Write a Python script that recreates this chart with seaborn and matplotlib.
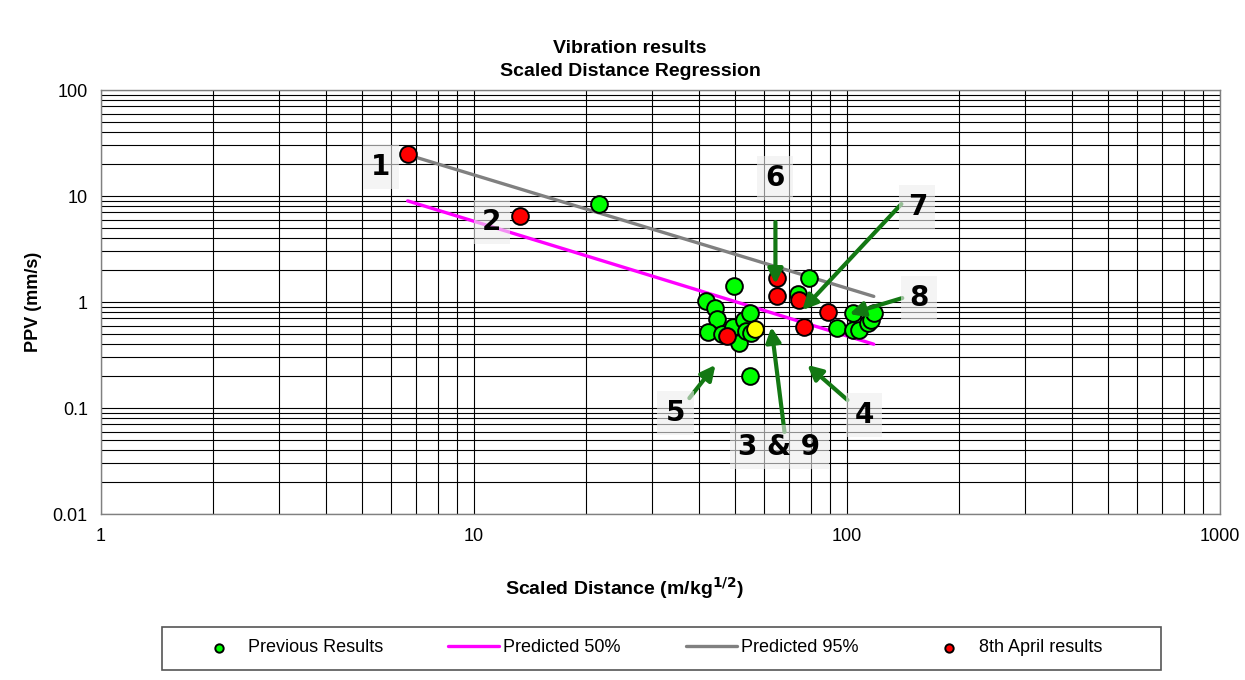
import numpy as np
import pandas as pd
import seaborn as sns
import matplotlib.pyplot as plt
from matplotlib.patches import Rectangle

# Previous results (scaled distance, PPV)
prev_x = [21.6, 49.7, 41.9, 44.2, 44.9, 42.4, 46.3, 49.6, 51.5, 53.1, 55.0,
          53.6, 55.4, 55.0, 73.8, 79.3, 94.0, 103.6, 103.6, 108.0, 113.6,
          116.0, 118.4]
prev_y = [8.4, 1.41, 1.03, 0.87, 0.69, 0.52, 0.50, 0.58, 0.41, 0.68, 0.79,
          0.53, 0.51, 0.20, 1.19, 1.67, 0.57, 0.78, 0.55, 0.55, 0.63,
          0.68, 0.79]

# 8th April results
april_x = [6.64, 13.3, 65.0, 65.0, 74.5, 88.8, 76.9, 47.6]
april_y = [24.9, 6.5, 1.67, 1.14, 1.04, 0.81, 0.585, 0.48]

# single highlighted (yellow) result
extra_x = [56.8]
extra_y = [0.556]

# regression lines (end points)
line_x = [6.64, 118.0]
pred50_y = [9.0, 0.40]
pred95_y = [24.5, 1.13]

# shot labels
labels = ["1", "2", "6", "7", "8", "5", "3 & 9", "4"]

sns.set_style("white")
plt.rcParams['font.family'] = ['Liberation Sans', 'DejaVu Sans']
plt.rcParams['text.color'] = 'black'
plt.rcParams['axes.labelcolor'] = 'black'
plt.rcParams['xtick.color'] = 'black'
plt.rcParams['ytick.color'] = 'black'

fig = plt.figure(figsize=(12.45, 6.8), dpi=100)
ax = fig.add_axes([0.0811, 0.2441, 0.8988, 0.6235])
ax.set_xscale('log')
ax.set_yscale('log')
ax.set_xlim(1, 1000)
ax.set_ylim(0.01, 100)

ax.grid(True, which='both', axis='both', color='black', linewidth=0.8)
ax.set_axisbelow(True)

sns.lineplot(x=line_x, y=pred50_y, color='#ff00ff', linewidth=2.4, ax=ax,
             label='Predicted 50%', zorder=2)
sns.lineplot(x=line_x, y=pred95_y, color='#808080', linewidth=2.4, ax=ax,
             label='Predicted 95%', zorder=2)
sns.scatterplot(x=prev_x, y=prev_y, color='#00ff00', edgecolor='black',
                linewidth=1.4, s=145, ax=ax, label='Previous Results', zorder=3)
sns.scatterplot(x=april_x, y=april_y, color='#ff0000', edgecolor='black',
                linewidth=1.4, s=145, ax=ax, label='8th April results', zorder=4)
sns.scatterplot(x=extra_x, y=extra_y, color='#ffff00', edgecolor='black',
                linewidth=1.4, s=145, ax=ax, legend=False, zorder=4)

# annotations
label_pos = [(5.62, 18.8), (11.15, 5.69), (64.3, 14.8), (154.4, 7.88),
             (156.3, 1.09), (34.7, 0.0897), (65.9, 0.0429), (111.3, 0.0859)]
arrows = {
    "6": ((64.3, 5.69), (64.3, 1.48)),
    "7": ((139.9, 8.40), (75.9, 0.84)),
    "8": ((140.7, 1.09), (101.5, 0.77)),
    "5": ((37.8, 0.124), (44.4, 0.255)),
    "3 & 9": ((68.0, 0.0595), (62.7, 0.581)),
    "4": ((100.3, 0.119), (78.3, 0.255)),
}
for lab, (xa, ya) in arrows.items():
    ax.annotate('', xy=ya, xytext=xa,
                arrowprops=dict(arrowstyle='-|>', color='#137813', lw=3,
                                mutation_scale=22, shrinkA=0, shrinkB=0),
                zorder=5)
for lab, (tx, ty) in zip(labels, label_pos):
    ax.text(tx, ty, lab, fontsize=20, fontweight='bold', family='DejaVu Sans',
            color='black', ha='center', va='center', zorder=6,
            bbox=dict(boxstyle='square,pad=0.3', facecolor='#eeeeee',
                      edgecolor='none', alpha=0.6))

ax.set_xticks([1, 10, 100, 1000])
ax.set_xticklabels(['1', '10', '100', '1000'])
ax.set_yticks([0.01, 0.1, 1, 10, 100])
ax.set_yticklabels(['0.01', '0.1', '1', '10', '100'])
ax.tick_params(axis='both', which='major', labelsize=13, length=6, color='#808080')
ax.tick_params(axis='both', which='minor', length=0)
ax.tick_params(axis='x', length=0, pad=10)
for side in ['left', 'bottom', 'top', 'right']:
    ax.spines[side].set_color('#808080')
    ax.spines[side].set_linewidth(1)

# axis titles and chart title
fig.text(624 / 1245, 92 / 680, 'Scaled Distance (m/kg$^{\\mathbf{1/2}}$)',
         fontsize=14, fontweight='bold', ha='center', va='center')
ax.set_ylabel('PPV (mm/s)', fontsize=13, fontweight='bold', labelpad=8)
fig.text(630 / 1245, 1 - 60 / 680, 'Vibration results\nScaled Distance Regression',
         fontsize=14, fontweight='bold', ha='center', va='center',
         linespacing=1.4)

handles, names = ax.get_legend_handles_labels()
order = ['Previous Results', 'Predicted 50%', 'Predicted 95%', '8th April results']
hmap = dict(zip(names, handles))
ax.get_legend().remove()

# legend frame drawn separately, entries placed inside it
fig.patches.append(Rectangle((162 / 1245, 10 / 680), 999 / 1245, 43 / 680,
                             transform=fig.transFigure, facecolor='white',
                             edgecolor='#555555', linewidth=1.2, zorder=0))
leg = fig.legend([hmap[n] for n in order], order, loc='center left',
                 bbox_to_anchor=(193 / 1245, 32 / 680), ncol=4, fontsize=13,
                 markerscale=0.5, handlelength=2.83, handletextpad=0.22,
                 columnspacing=3.6, frameon=False, borderpad=0,
                 borderaxespad=0)

fig.savefig('out.png', dpi=100)
